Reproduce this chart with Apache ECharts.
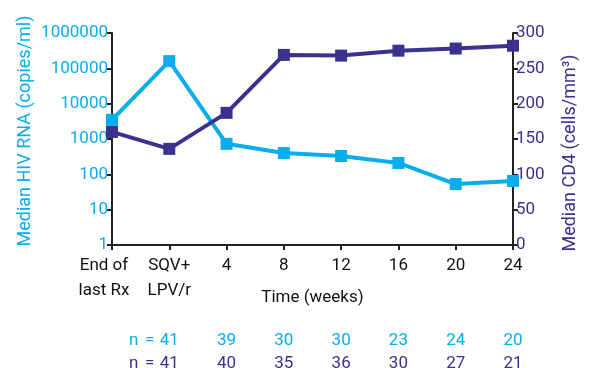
<!DOCTYPE html>
<html>
<head>
<meta charset="utf-8">
<script src="https://cdn.jsdelivr.net/npm/echarts@6/dist/echarts.min.js"></script>
<style>
  html, body { margin: 0; padding: 0; background: #fff; }
  #main { width: 589px; height: 368px; }
</style>
</head>
<body>
<div id="main"></div>
<script>
// data
var categories = ['End of\nlast Rx', 'SQV+\nLPV/r', '4', '8', '12', '16', '20', '24'];
var rnaData = [3500, 160000, 730, 400, 330, 210, 53, 65];
var cd4Data = [160, 136, 187, 269, 268, 275, 278, 282];
var nRna = ['', '41', '39', '30', '30', '23', '24', '20'];
var nCd4 = ['', '41', '40', '35', '36', '30', '27', '21'];

var lightBlue = '#08adec';
var darkBlue = '#3b318e';
var font = 'Roboto';

var chart = echarts.init(document.getElementById('main'));

// row of n values under the x axis
function nAxis(values, color, offset) {
    return {
        type: 'category',
        data: values,
        boundaryGap: false,
        position: 'bottom',
        offset: offset,
        axisLine: { show: false },
        axisTick: { show: false },
        axisLabel: {
            interval: 0,
            color: color,
            fontSize: 17,
            fontFamily: font,
            formatter: function (v, i) {
                if (i === 1) return '{p|n}{e|=}' + v + '{q|}';
                return v;
            },
            rich: {
                p: { width: 12, fontSize: 17, color: color, fontFamily: font },
                e: { width: 20, fontSize: 17, color: color, fontFamily: font, letterSpacing: 0 },
                q: { width: 32 }
            }
        }
    };
}

// first category label sits a bit left of its tick
var xData = categories.map(function (c, i) {
    return i === 0 ? { value: c, textStyle: { padding: [0, 16, 0, 0] } } : c;
});

var option = {
    animation: false,
    grid: { left: 112, right: 76, top: 33, bottom: 123, outerBoundsMode: 'none' },
    xAxis: [
        {
            type: 'category',
            data: xData,
            boundaryGap: false,
            name: 'Time (weeks)',
            nameLocation: 'middle',
            nameGap: 44,
            nameMoveOverlap: false,
            nameTextStyle: { color: '#111', fontSize: 17, fontFamily: font },
            axisLine: { lineStyle: { color: '#222', width: 2 } },
            axisTick: { length: 5, lineStyle: { color: '#222', width: 2 } },
            axisLabel: {
                interval: 0,
                color: '#111',
                fontSize: 17,
                fontFamily: font,
                lineHeight: 25,
                margin: 8
            }
        },
        nAxis(nRna, lightBlue, 79),
        nAxis(nCd4, darkBlue, 102)
    ],
    yAxis: [
        {
            type: 'log',
            logBase: 10,
            min: 1,
            max: 1000000,
            name: 'Median HIV RNA (copies/ml)',
            nameLocation: 'middle',
            nameGap: 78,
            nameMoveOverlap: false,
            nameTextStyle: { color: lightBlue, fontSize: 18, fontFamily: font, padding: [0, 0, 0, 16] },
            splitLine: { show: false },
            axisLine: { show: true, lineStyle: { color: '#222', width: 2 } },
            axisTick: { show: true, length: 5, lineStyle: { color: '#222', width: 2 } },
            axisLabel: {
                color: lightBlue,
                fontSize: 17,
                fontFamily: font,
                margin: 4,
                formatter: function (v) { return String(Math.round(v)); }
            }
        },
        {
            type: 'value',
            min: 0,
            max: 300,
            interval: 50,
            position: 'right',
            name: 'Median CD4 (cells/mm³)',
            nameLocation: 'middle',
            nameGap: 48,
            nameRotate: 90,
            nameMoveOverlap: false,
            nameTextStyle: { color: darkBlue, fontSize: 18, fontFamily: font, padding: [0, 28, 0, 0] },
            splitLine: { show: false },
            axisLine: { show: true, lineStyle: { color: '#222', width: 2 } },
            axisTick: { show: true, length: 5, lineStyle: { color: '#222', width: 2 } },
            axisLabel: { color: darkBlue, fontSize: 17, fontFamily: font, margin: 3 }
        }
    ],
    series: [
        {
            name: 'HIV RNA',
            type: 'line',
            xAxisIndex: 0,
            yAxisIndex: 0,
            data: rnaData,
            symbol: 'rect',
            symbolSize: 12,
            lineStyle: { color: lightBlue, width: 4 },
            itemStyle: { color: lightBlue },
            z: 3
        },
        {
            name: 'CD4',
            type: 'line',
            xAxisIndex: 0,
            yAxisIndex: 1,
            data: cd4Data,
            symbol: 'rect',
            symbolSize: 12,
            lineStyle: { color: darkBlue, width: 4 },
            itemStyle: { color: darkBlue },
            z: 4
        }
    ]
};

chart.setOption(option);
window.addEventListener('resize', function () {
    chart.resize();
});
</script>
</body>
</html>
